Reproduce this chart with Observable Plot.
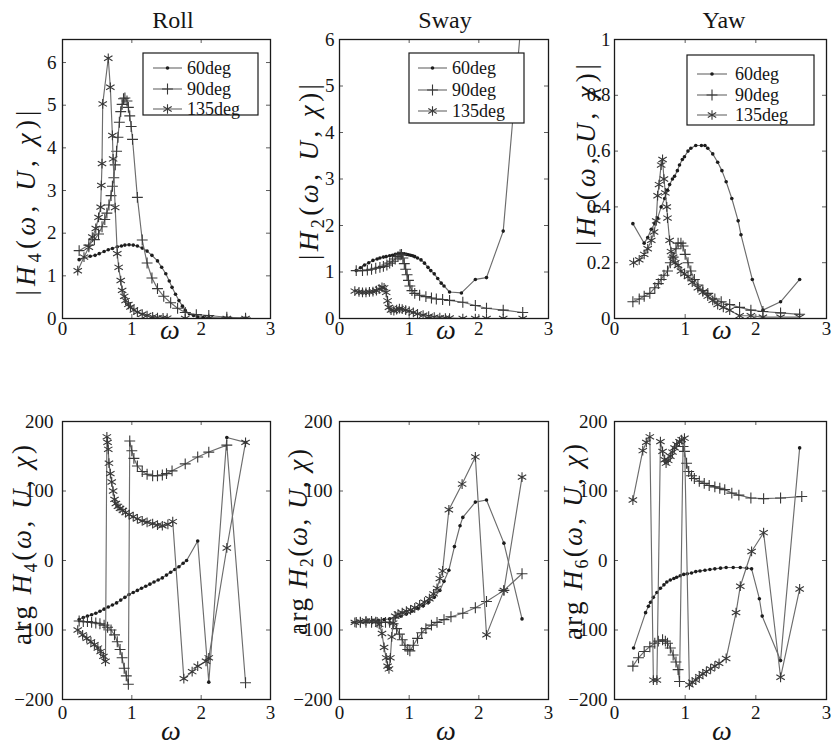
<!DOCTYPE html>
<html><head><meta charset="utf-8">
<script src="https://cdn.jsdelivr.net/npm/d3@7"></script>
<script src="https://cdn.jsdelivr.net/npm/@observablehq/plot@0.6"></script>
<style>
html,body{margin:0;padding:0;background:#fff;}
#root{position:relative;width:832px;height:749px;overflow:hidden;background:#fff;}
.panel{position:absolute;}
.panel svg text{font-family:"Liberation Serif","Times New Roman",serif !important;font-size:19px;}
#overlay{position:absolute;left:0;top:0;z-index:2;}
#overlay text{font-family:"Liberation Serif","Times New Roman",serif !important;}
</style></head><body><div id="root"></div>
<script>
// ---------- data ----------
const headings = ["60deg", "90deg", "135deg"];
const panelTitles = ["Roll", "Sway", "Yaw"];
const omegaTicks = [0, 1, 2, 3];
const magTicksRoll = [0, 1, 2, 3, 4, 5, 6];
const magTicksSway = [0, 1, 2, 3, 4, 5, 6];
const magTicksYaw = [0, 0.2, 0.4, 0.6, 0.8, 1];
const argTicks = [-200, -100, 0, 100, 200];

// |H4| roll
const rollMag60 = [[0.24,1.38],[0.4,1.46],[0.47,1.48],[0.53,1.52],[0.6,1.57],[0.66,1.61],[0.72,1.64],[0.79,1.68],[0.85,1.7],[0.9,1.72],[0.96,1.73],[1.02,1.72],[1.08,1.7],[1.15,1.65],[1.22,1.58],[1.29,1.48],[1.37,1.35],[1.43,1.2],[1.49,1.05],[1.54,0.88],[1.58,0.73],[1.63,0.57],[1.68,0.42],[1.73,0.29],[1.77,0.19],[1.83,0.11],[1.89,0.07],[1.95,0.04],[2.03,0.02],[2.11,0.02],[2.37,0.01],[2.64,0.01]];
const rollMag90 = [[0.24,1.59],[0.38,1.72],[0.46,1.85],[0.52,1.98],[0.57,2.15],[0.61,2.32],[0.64,2.47],[0.67,2.66],[0.7,2.88],[0.72,3.1],[0.74,3.3],[0.76,3.6],[0.78,3.92],[0.8,4.25],[0.82,4.6],[0.84,4.85],[0.86,5.02],[0.88,5.15],[0.9,5.17],[0.93,5.1],[0.95,4.95],[0.97,4.75],[0.99,4.5],[1.01,4.2],[1.08,2.84],[1.15,1.84],[1.22,1.3],[1.29,0.95],[1.37,0.7],[1.46,0.52],[1.56,0.37],[1.66,0.24],[1.77,0.14],[1.93,0.09],[2.11,0.07],[2.37,0.03],[2.64,0.01]];
const rollMag135 = [[0.22,1.12],[0.31,1.44],[0.38,1.67],[0.43,1.91],[0.48,2.11],[0.52,2.37],[0.55,2.61],[0.56,3.12],[0.57,3.63],[0.58,5.03],[0.66,6.1],[0.69,5.42],[0.72,4.29],[0.73,3.74],[0.76,2.6],[0.79,1.52],[0.81,1.2],[0.84,0.89],[0.86,0.66],[0.89,0.52],[0.91,0.42],[0.95,0.33],[0.98,0.27],[1.03,0.2],[1.08,0.15],[1.15,0.1],[1.22,0.07],[1.3,0.04],[1.37,0.02],[1.45,0.015],[1.51,0.01],[1.77,0.0],[2.11,0.0],[2.37,0.0],[2.64,0.0]];

// |H2| sway
const swayMag60 = [[0.24,1.03],[0.3,1.09],[0.36,1.15],[0.42,1.2],[0.48,1.25],[0.54,1.28],[0.58,1.3],[0.63,1.32],[0.67,1.33],[0.72,1.35],[0.76,1.36],[0.8,1.38],[0.84,1.39],[0.87,1.39],[0.9,1.39],[0.93,1.39],[0.96,1.38],[0.99,1.37],[1.02,1.36],[1.05,1.35],[1.08,1.33],[1.12,1.3],[1.17,1.26],[1.22,1.19],[1.27,1.1],[1.31,1.03],[1.36,0.96],[1.41,0.86],[1.46,0.76],[1.5,0.7],[1.58,0.57],[1.75,0.55],[1.95,0.84],[2.11,0.88],[2.35,1.88],[2.62,6.6]];
const swayMag90 = [[0.24,1.03],[0.33,1.03],[0.4,1.04],[0.46,1.06],[0.52,1.08],[0.58,1.1],[0.63,1.12],[0.68,1.15],[0.72,1.19],[0.76,1.23],[0.8,1.28],[0.84,1.33],[0.87,1.37],[0.89,1.38],[0.91,1.3],[0.93,1.18],[0.95,1.06],[0.97,0.94],[0.99,0.82],[1.01,0.7],[1.04,0.6],[1.08,0.54],[1.15,0.5],[1.24,0.47],[1.32,0.44],[1.39,0.42],[1.48,0.41],[1.58,0.39],[1.77,0.35],[1.95,0.28],[2.11,0.22],[2.35,0.18],[2.63,0.13]];
const swayMag135 = [[0.22,0.59],[0.28,0.57],[0.33,0.56],[0.38,0.56],[0.43,0.57],[0.48,0.58],[0.53,0.6],[0.57,0.63],[0.61,0.67],[0.64,0.66],[0.67,0.56],[0.69,0.38],[0.71,0.24],[0.74,0.18],[0.78,0.17],[0.82,0.19],[0.86,0.21],[0.9,0.2],[0.95,0.18],[1.0,0.16],[1.06,0.13],[1.12,0.1],[1.2,0.07],[1.28,0.05],[1.36,0.03],[1.44,0.02],[1.52,0.01],[1.58,0.01],[1.77,0.0],[1.95,0.0],[2.11,0.0],[2.35,0.0],[2.63,0.0]];

// |H6| yaw
const yawMag60 = [[0.26,0.34],[0.42,0.27],[0.47,0.29],[0.52,0.32],[0.57,0.34],[0.61,0.36],[0.66,0.4],[0.71,0.43],[0.75,0.46],[0.78,0.48],[0.82,0.5],[0.85,0.51],[0.89,0.53],[0.92,0.55],[0.96,0.57],[0.99,0.58],[1.04,0.6],[1.08,0.61],[1.15,0.62],[1.23,0.62],[1.28,0.62],[1.32,0.61],[1.39,0.59],[1.46,0.56],[1.52,0.53],[1.58,0.49],[1.66,0.43],[1.75,0.35],[1.79,0.3],[1.95,0.14],[2.1,0.03],[2.35,0.06],[2.62,0.14]];
const yawMag90 = [[0.26,0.06],[0.35,0.07],[0.42,0.08],[0.5,0.09],[0.57,0.11],[0.62,0.125],[0.66,0.14],[0.7,0.155],[0.75,0.17],[0.79,0.2],[0.83,0.22],[0.87,0.25],[0.9,0.27],[0.94,0.27],[0.97,0.26],[1.0,0.23],[1.04,0.2],[1.08,0.17],[1.13,0.14],[1.18,0.12],[1.25,0.1],[1.32,0.09],[1.42,0.07],[1.51,0.06],[1.63,0.05],[1.77,0.04],[1.93,0.03],[2.1,0.025],[2.35,0.02],[2.62,0.015]];
const yawMag135 = [[0.27,0.2],[0.35,0.21],[0.42,0.23],[0.47,0.25],[0.52,0.28],[0.56,0.31],[0.59,0.35],[0.61,0.44],[0.63,0.48],[0.66,0.55],[0.68,0.57],[0.7,0.5],[0.72,0.45],[0.74,0.4],[0.75,0.36],[0.78,0.28],[0.8,0.24],[0.83,0.22],[0.86,0.2],[0.9,0.19],[0.94,0.17],[0.99,0.16],[1.04,0.15],[1.1,0.13],[1.18,0.11],[1.25,0.095],[1.32,0.08],[1.39,0.065],[1.46,0.05],[1.54,0.04],[1.63,0.03],[1.77,0.01],[1.93,0.01],[2.1,0.005],[2.35,0.005],[2.62,0.005]];

// arg H4 roll
const rollArg60 = [[0.24,-85],[0.3,-82],[0.36,-80],[0.42,-78],[0.48,-76],[0.54,-73],[0.6,-70],[0.66,-67],[0.72,-64],[0.78,-61],[0.84,-57],[0.9,-53],[0.96,-49],[1.02,-46],[1.08,-43],[1.14,-40],[1.2,-37],[1.26,-34],[1.32,-31],[1.38,-28],[1.44,-25],[1.5,-21],[1.56,-17],[1.62,-13],[1.68,-9],[1.74,-4],[1.79,0],[1.95,28],[2.11,-175],[2.37,177],[2.64,170]];
const rollArg90 = [[0.24,-87],[0.3,-88],[0.36,-88],[0.42,-89],[0.48,-90],[0.54,-91],[0.6,-93],[0.65,-96],[0.7,-100],[0.75,-107],[0.79,-117],[0.83,-128],[0.86,-140],[0.89,-155],[0.92,-166],[0.95,-178],[0.97,172],[1.0,158],[1.03,147],[1.08,136],[1.15,128],[1.22,124],[1.3,122],[1.37,122],[1.44,123],[1.5,125],[1.58,129],[1.77,139],[1.95,149],[2.11,156],[2.37,166],[2.64,-176]];
const rollArg135 = [[0.22,-100],[0.29,-107],[0.35,-112],[0.41,-117],[0.46,-121],[0.51,-126],[0.55,-131],[0.59,-138],[0.62,-145],[0.64,178],[0.65,170],[0.66,160],[0.67,140],[0.69,125],[0.71,113],[0.73,100],[0.75,88],[0.77,82],[0.8,78],[0.83,75],[0.87,72],[0.91,69],[0.96,66],[1.02,63],[1.08,60],[1.15,57],[1.22,55],[1.3,53],[1.37,51],[1.44,50],[1.52,52],[1.59,56],[1.75,-170],[1.87,-160],[1.95,-152],[2.07,-145],[2.11,-140],[2.37,18],[2.64,170]];

// arg H2 sway
const swayArg60 = [[0.24,-89],[0.32,-88],[0.4,-87],[0.48,-86],[0.56,-86],[0.64,-85],[0.72,-84],[0.8,-82],[0.88,-80],[0.96,-77],[1.04,-73],[1.12,-69],[1.2,-65],[1.28,-60],[1.36,-53],[1.44,-43],[1.5,-30],[1.57,-14],[1.65,20],[1.73,50],[1.77,62],[1.95,84],[2.11,87],[2.36,25],[2.62,-84]];
const swayArg90 = [[0.24,-89],[0.3,-89],[0.38,-89],[0.46,-89],[0.54,-89],[0.6,-89],[0.66,-89],[0.72,-89],[0.77,-91],[0.82,-98],[0.86,-106],[0.9,-114],[0.94,-122],[0.98,-128],[1.01,-130],[1.06,-122],[1.12,-112],[1.18,-104],[1.24,-98],[1.32,-93],[1.4,-89],[1.5,-85],[1.6,-81],[1.77,-76],[1.95,-68],[2.11,-59],[2.36,-43],[2.62,-19]];
const swayArg135 = [[0.22,-89],[0.3,-88],[0.38,-87],[0.46,-87],[0.52,-88],[0.57,-92],[0.61,-105],[0.64,-125],[0.67,-140],[0.69,-152],[0.71,-156],[0.73,-140],[0.75,-110],[0.77,-90],[0.8,-80],[0.84,-77],[0.9,-75],[0.96,-73],[1.02,-71],[1.08,-68],[1.15,-64],[1.22,-60],[1.29,-55],[1.35,-48],[1.4,-40],[1.44,-26],[1.48,-15],[1.57,73],[1.76,110],[1.95,149],[2.11,-107],[2.36,-43],[2.62,120]];

// arg H6 yaw
const yawArg60 = [[0.27,-126],[0.44,-75],[0.48,-66],[0.51,-60],[0.55,-53],[0.6,-46],[0.65,-40],[0.7,-35],[0.74,-31],[0.79,-28],[0.84,-26],[0.88,-24],[0.93,-22],[0.98,-20],[1.03,-19],[1.09,-18],[1.15,-16],[1.21,-15],[1.28,-14],[1.35,-13],[1.42,-12],[1.5,-11],[1.58,-10],[1.68,-10],[1.78,-10],[1.87,-11],[1.94,-12],[2.05,-55],[2.09,-80],[2.35,-144],[2.62,162]];
const yawArg90 = [[0.26,-152],[0.34,-140],[0.42,-131],[0.5,-124],[0.57,-119],[0.62,-116],[0.68,-114],[0.72,-116],[0.75,-119],[0.79,-126],[0.83,-136],[0.87,-146],[0.9,-157],[0.92,-174],[0.97,164],[0.99,157],[1.02,140],[1.05,128],[1.09,122],[1.13,118],[1.2,114],[1.27,111],[1.34,108],[1.42,106],[1.49,104],[1.56,102],[1.66,97],[1.76,94],[1.93,90],[2.11,89],[2.35,90],[2.65,92]];
const yawArg135 = [[0.26,87],[0.4,158],[0.45,170],[0.5,178],[0.55,-172],[0.6,-172],[0.65,171],[0.68,157],[0.71,145],[0.73,140],[0.76,144],[0.79,150],[0.82,156],[0.85,162],[0.88,167],[0.92,171],[0.95,174],[0.99,176],[1.06,-179],[1.1,-175],[1.15,-172],[1.2,-167],[1.25,-163],[1.3,-160],[1.36,-156],[1.42,-152],[1.48,-148],[1.58,-141],[1.72,-75],[1.78,-37],[1.94,13],[2.11,40],[2.35,-168],[2.62,-41]];

// ---------- drawing ----------
const FONT = "'Liberation Serif','Times New Roman',serif";
const seriesStyle = {
  "60deg":  {symbol: "circle",   r: 1.8, fill: "#1c1c1c", stroke: "none", strokeWidth: 0},
  "90deg":  {symbol: "plus",     r: 3.6, fill: "none", stroke: "#383838", strokeWidth: 1.1},
  "135deg": {symbol: "asterisk", r: 4.6, fill: "none", stroke: "#383838", strokeWidth: 1.1}
};
const minusFmt = d => d < 0 ? "\u2212" + Math.abs(d) : String(d);

const panels = [
  {x0: 62,  x1: 270, y0: 39,  y1: 318, domain: [0, 6.54], ticks: magTicksRoll, fmt: String, xPad: 3, yPad: 6, data: [rollMag60, rollMag90, rollMag135]},
  {x0: 339, x1: 548, y0: 39,  y1: 318, domain: [0, 6],    ticks: magTicksSway, fmt: String, xPad: 3, yPad: 5, data: [swayMag60, swayMag90, swayMag135]},
  {x0: 614, x1: 826, y0: 39,  y1: 318, domain: [0, 1],    ticks: magTicksYaw,  fmt: String, xPad: 3, yPad: 4, data: [yawMag60, yawMag90, yawMag135]},
  {x0: 62,  x1: 270, y0: 421, y1: 699, domain: [-200, 200], ticks: argTicks, fmt: minusFmt, xPad: 6, yPad: 9, data: [rollArg60, rollArg90, rollArg135]},
  {x0: 339, x1: 548, y0: 421, y1: 699, domain: [-200, 200], ticks: argTicks, fmt: minusFmt, xPad: 6, yPad: 7, data: [swayArg60, swayArg90, swayArg135]},
  {x0: 614, x1: 826, y0: 421, y1: 699, domain: [-200, 200], ticks: argTicks, fmt: minusFmt, xPad: 6, yPad: 7, data: [yawArg60, yawArg90, yawArg135]}
];

const root = document.getElementById("root");
const mL = 56, mR = 6, mT = 6, mB = 30;

for (const p of panels) {
  const W = p.x1 - p.x0, H = p.y1 - p.y0;
  const marks = [
    Plot.ruleX(omegaTicks, {x: d => d, insetTop: H - 4, stroke: "#333", strokeWidth: 0.8}),
    Plot.ruleX(omegaTicks, {x: d => d, insetBottom: H - 4, stroke: "#333", strokeWidth: 0.8}),
    Plot.ruleY(p.ticks, {y: d => d, insetRight: W - 4, stroke: "#333", strokeWidth: 0.8}),
    Plot.ruleY(p.ticks, {y: d => d, insetLeft: W - 4, stroke: "#333", strokeWidth: 0.8})
  ];
  p.data.forEach((s, i) => {
    const st = seriesStyle[headings[i]];
    marks.push(Plot.line(s, {x: d => d[0], y: d => d[1], stroke: "#6c6c6c", strokeWidth: 1.15, clip: true}));
    marks.push(Plot.dot(s, {x: d => d[0], y: d => d[1], symbol: st.symbol, r: st.r, fill: st.fill,
      stroke: st.stroke, strokeWidth: st.strokeWidth, clip: true}));
  });
  marks.push(Plot.frame({stroke: "#1a1a1a", strokeWidth: 1.3}));
  marks.push(Plot.axisX({ticks: omegaTicks, tickSize: 0, tickPadding: p.xPad, label: null, tickFormat: d => String(d)}));
  marks.push(Plot.axisY({ticks: p.ticks, tickSize: 0, tickPadding: p.yPad, label: null, tickFormat: p.fmt}));
  const chart = Plot.plot({
    width: W + mL + mR, height: H + mT + mB,
    marginLeft: mL, marginRight: mR, marginTop: mT, marginBottom: mB,
    x: {domain: [0, 3]}, y: {domain: p.domain},
    style: {fontFamily: FONT, fontSize: "19px", color: "#151515", background: "transparent", overflow: "visible"},
    marks
  });
  const div = document.createElement("div");
  div.className = "panel";
  div.style.left = (p.x0 - mL) + "px";
  div.style.top = (p.y0 - mT) + "px";
  div.appendChild(chart);
  root.appendChild(div);
}

// ---------- overlay: titles, axis labels, legends ----------
const svg = d3.create("svg").attr("id", "overlay").attr("width", 832).attr("height", 749)
  .style("font-family", FONT).style("fill", "#151515");

const titlePos = [173, 445, 724];
panelTitles.forEach((t, i) => {
  svg.append("text").attr("x", titlePos[i]).attr("y", 28).attr("text-anchor", "middle")
    .attr("font-size", 24).text(t);
});

const omegaPos = [[170, 339], [446, 339], [722, 339], [171, 740], [446, 740], [722, 740]];
omegaPos.forEach(([x, y]) => {
  svg.append("text").attr("x", x).attr("y", y).attr("text-anchor", "middle")
    .attr("font-size", 28).attr("font-style", "italic").text("\u03C9");
});

function yLabel(bx, cy, sub, isArg, len) {
  const t = svg.append("text").attr("transform", `translate(${bx},${cy}) rotate(-90)`)
    .attr("text-anchor", "middle").attr("font-size", 27)
    .attr("textLength", len).attr("lengthAdjust", "spacing");
  const parts = isArg
    ? [["arg ", "normal"], ["H", "italic"]]
    : [["|", "normal"], ["H", "italic"]];
  parts.forEach(([s, fs]) => t.append("tspan").attr("font-style", fs).text(s));
  t.append("tspan").attr("font-size", 18).attr("dy", 6).text(sub);
  t.append("tspan").attr("dy", -6).text("(");
  t.append("tspan").attr("font-style", "italic").text("\u03C9");
  t.append("tspan").text(", ");
  t.append("tspan").attr("font-style", "italic").text("U");
  t.append("tspan").text(", ");
  t.append("tspan").attr("font-style", "italic").text("\u03C7");
  t.append("tspan").text(isArg ? ")" : ")|");
}
yLabel(35, 203, "4", false, 185);
yLabel(318, 172, "2", false, 176);
yLabel(595, 155, "6", false, 182);
yLabel(31, 545, "4", true, 200);
yLabel(307, 542, "2", true, 186);
yLabel(582, 542, "6", true, 196);

const legends = [
  {left: 143, top: 53, w: 115, h: 62, rows: [15, 36, 56], lx0: 10, lx1: 39, tx: 44},
  {left: 409, top: 53, w: 115, h: 70, rows: [15, 37, 58], lx0: 9, lx1: 38, tx: 43},
  {left: 687, top: 55, w: 127, h: 70, rows: [19, 40, 60], lx0: 10, lx1: 40, tx: 48}
];
legends.forEach(L => {
  const g = svg.append("g").attr("transform", `translate(${L.left},${L.top})`);
  g.append("rect").attr("width", L.w).attr("height", L.h).attr("fill", "#fff")
    .attr("stroke", "#1a1a1a").attr("stroke-width", 1.2);
  headings.forEach((hname, i) => {
    const y = L.rows[i], st = seriesStyle[hname];
    const cx = (L.lx0 + L.lx1) / 2;
    g.append("line").attr("x1", L.lx0).attr("x2", L.lx1).attr("y1", y).attr("y2", y)
      .attr("stroke", "#6c6c6c").attr("stroke-width", 1.15);
    if (st.symbol === "circle") {
      g.append("circle").attr("cx", cx).attr("cy", y).attr("r", st.r).attr("fill", st.fill);
    } else {
      const type = st.symbol === "plus" ? d3.symbolPlus : d3.symbolAsterisk;
      g.append("path").attr("transform", `translate(${cx},${y})`)
        .attr("d", d3.symbol(type, Math.PI * st.r * st.r)())
        .attr("fill", "none").attr("stroke", st.stroke).attr("stroke-width", st.strokeWidth);
    }
    g.append("text").attr("x", L.tx).attr("y", y).attr("dy", "0.33em")
      .attr("font-size", 18).text(hname);
  });
});

root.appendChild(svg.node());
</script></body></html>
